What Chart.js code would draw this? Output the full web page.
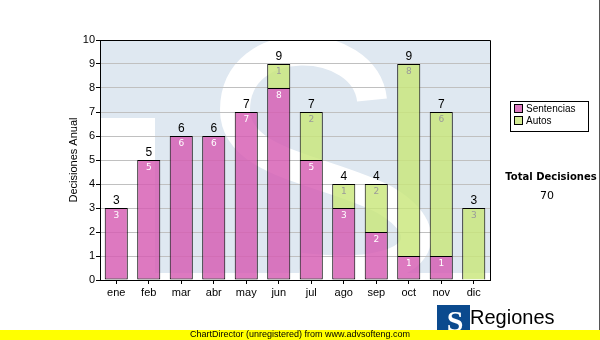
<!DOCTYPE html>
<html>
<head>
<meta charset="utf-8">
<script src="https://cdn.jsdelivr.net/npm/chart.js@4.4.1/dist/chart.umd.min.js"></script>
<style>
  html, body { margin: 0; padding: 0; background: #fff; }
  #wrap { width: 600px; height: 340px; position: relative; }
</style>
</head>
<body>
<div id="wrap"><canvas id="decisiones" width="600" height="340"></canvas></div>
<script>
// decisiones por mes
const meses = ['ene', 'feb', 'mar', 'abr', 'may', 'jun', 'jul', 'ago', 'sep', 'oct', 'nov', 'dic'];
const sentencias = [3, 5, 6, 6, 7, 8, 5, 3, 2, 1, 1, 0];
const autos = [0, 0, 0, 0, 0, 1, 2, 1, 2, 8, 6, 3];
const yTicks = [0, 1, 2, 3, 4, 5, 6, 7, 8, 9, 10];

const totales = meses.map((m, i) => sentencias[i] + autos[i]);
const totalDecisiones = totales.reduce((a, b) => a + b, 0);

const ROSA = 'rgba(214, 92, 178, 0.82)';
const VERDE = 'rgba(200, 230, 120, 0.8)';

// los meses sin decisiones no dibujan barra
const sinCeros = arr => arr.map(v => (v === 0 ? null : v));

// logo TS de fondo dentro del area del grafico
const marcaAgua = {
    id: 'marcaAgua',
    beforeDraw(chart) {
        const { ctx, chartArea: a } = chart;
        ctx.save();
        ctx.beginPath();
        ctx.rect(a.left, a.top, a.right - a.left, a.bottom - a.top);
        ctx.clip();
        ctx.fillStyle = '#dfe8f1';
        ctx.fillRect(a.left, a.top, a.right - a.left, a.bottom - a.top);
        ctx.fillStyle = '#fff';
        ctx.fillRect(a.left, 118, 55, a.bottom - 118);
        ctx.fillRect(a.left, 273, a.right - a.left, a.bottom - 273);
        // la S
        ctx.strokeStyle = '#fff';
        ctx.lineWidth = 30;
        ctx.lineCap = 'butt';
        ctx.beginPath();
        ctx.moveTo(372, 100);
        ctx.bezierCurveTo(365, 35, 235, 30, 235, 110);
        ctx.bezierCurveTo(235, 165, 330, 170, 385, 200);
        ctx.bezierCurveTo(445, 235, 420, 282, 300, 268);
        ctx.stroke();
        ctx.restore();
    }
};

// marco, etiquetas de valores, leyenda, totales y pie
const extras = {
    id: 'extras',
    afterDatasetsDraw(chart) {
        const { ctx, chartArea: a } = chart;
        ctx.save();
        ctx.strokeStyle = '#000';
        ctx.lineWidth = 1;
        ctx.beginPath();
        ctx.moveTo(a.left, a.top + 0.5);
        ctx.lineTo(a.right + 0.5, a.top + 0.5);
        ctx.lineTo(a.right + 0.5, a.bottom);
        ctx.stroke();

        ctx.textAlign = 'center';
        ctx.textBaseline = 'top';
        ctx.font = '9px "DejaVu Sans"';
        chart.data.datasets.forEach((ds, di) => {
            const meta = chart.getDatasetMeta(di);
            meta.data.forEach((bar, i) => {
                const v = ds.data[i];
                if (!v) return;
                ctx.fillStyle = di === 0 ? '#ffffff' : '#9a9a9a';
                ctx.fillText(String(v), bar.x, bar.y + 3);
            });
        });

        ctx.font = '12px "Liberation Sans", Arial';
        ctx.fillStyle = '#000';
        ctx.textBaseline = 'bottom';
        const y = chart.scales.y;
        const x = chart.scales.x;
        totales.forEach((t, i) => {
            ctx.fillText(String(t), x.getPixelForValue(i), y.getPixelForValue(t) - 1);
        });
        ctx.restore();
    },
    afterDraw(chart) {
        const { ctx } = chart;
        ctx.save();
        // leyenda
        ctx.strokeStyle = '#000';
        ctx.lineWidth = 1;
        ctx.fillStyle = '#fff';
        ctx.fillRect(510.5, 101.5, 78, 30);
        ctx.strokeRect(510.5, 101.5, 78, 30);
        [[ROSA, 'Sentencias', 108.5], [VERDE, 'Autos', 120.5]].forEach(([c, txt, yy]) => {
            ctx.fillStyle = '#fff';
            ctx.fillRect(514.5, yy - 4, 8, 8);
            ctx.fillStyle = c;
            ctx.fillRect(514.5, yy - 4, 8, 8);
            ctx.strokeRect(514.5, yy - 4, 8, 8);
            ctx.fillStyle = '#000';
            ctx.font = '10px "Liberation Sans", Arial';
            ctx.textAlign = 'left';
            ctx.textBaseline = 'middle';
            ctx.fillText(txt, 526, yy + 0.5);
        });

        ctx.textAlign = 'center';
        ctx.textBaseline = 'middle';
        ctx.font = 'bold 10px "DejaVu Sans"';
        ctx.fillText('Total Decisiones', 551, 177);
        ctx.font = '11px "DejaVu Sans"';
        ctx.fillText(String(totalDecisiones), 547, 196);

        // logo
        ctx.fillStyle = '#0b4a8e';
        ctx.fillRect(437, 305, 33, 28);
        ctx.fillStyle = '#fff';
        ctx.font = 'bold 30px "Liberation Serif"';
        ctx.textBaseline = 'alphabetic';
        ctx.fillText('S', 455, 331);
        ctx.fillStyle = '#000';
        ctx.textAlign = 'left';
        ctx.font = '20px "Liberation Sans", Arial';
        ctx.fillText('Regiones', 470, 324);
        ctx.font = '8px "Liberation Sans", Arial';
        ctx.fillText('Tribunal Supremo de Justicia', 473, 336);

        ctx.strokeStyle = '#555';
        ctx.beginPath();
        ctx.moveTo(599.5, 0);
        ctx.lineTo(599.5, 330);
        ctx.stroke();

        // franja amarilla
        ctx.fillStyle = '#ffff00';
        ctx.fillRect(0, 330, 600, 10);
        ctx.fillStyle = '#000';
        ctx.textAlign = 'center';
        ctx.textBaseline = 'middle';
        ctx.font = '9px "Liberation Sans", Arial';
        ctx.fillText('ChartDirector (unregistered) from www.advsofteng.com', 300, 335);
        ctx.restore();
    }
};

new Chart(document.getElementById('decisiones'), {
    type: 'bar',
    data: {
        labels: meses,
        datasets: [
            { label: 'Sentencias', data: sinCeros(sentencias), backgroundColor: ROSA, borderSkipped: false },
            { label: 'Autos', data: sinCeros(autos), backgroundColor: VERDE, borderSkipped: 'bottom' }
        ]
    },
    options: {
        responsive: false,
        animation: false,
        layout: { padding: { left: 60, top: 40, right: 110, bottom: 0 } },
        datasets: {
            bar: {
                borderColor: '#000',
                borderWidth: 1,
                categoryPercentage: 1,
                barPercentage: 0.71
            }
        },
        plugins: { legend: { display: false }, tooltip: { enabled: false } },
        scales: {
            x: {
                stacked: true,
                afterFit(s) { s.height = 60; },
                grid: { display: true, drawOnChartArea: false, offset: false, tickLength: 4, tickColor: '#000' },
                border: { color: '#000' },
                ticks: { color: '#000', padding: 2, font: { family: '"Liberation Sans", Arial', size: 11 } }
            },
            y: {
                stacked: true,
                min: 0,
                max: 10,
                afterFit(s) { s.width = 40; },
                afterBuildTicks(s) { s.ticks = yTicks.map(v => ({ value: v })); },
                grid: { color: '#c0c0c0', tickLength: 4, tickColor: '#000' },
                border: { color: '#000' },
                ticks: { color: '#000', padding: 1, font: { family: '"Liberation Sans", Arial', size: 11 } },
                title: {
                    display: true,
                    text: 'Decisiones Anual',
                    color: '#000',
                    padding: { top: 7, bottom: 0 },
                    font: { family: '"Liberation Sans", Arial', size: 11 }
                }
            }
        }
    },
    plugins: [marcaAgua, extras]
});
</script>
</body>
</html>
